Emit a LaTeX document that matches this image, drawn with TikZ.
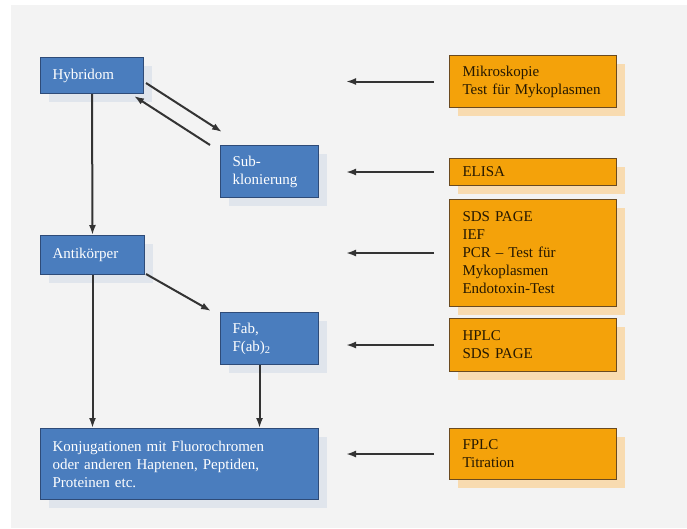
\documentclass[tikz,border=0pt]{standalone}
\usepackage{fontspec}
\setmainfont{Liberation Serif}
\usetikzlibrary{arrows.meta,shadows}

\definecolor{hellgrau}{HTML}{F3F3F3}
\definecolor{blau}{HTML}{4A7DBE}
\definecolor{blaurand}{HTML}{2E4B78}
\definecolor{blauschatten}{HTML}{E0E5EC}
\definecolor{orange}{HTML}{F4A20A}
\definecolor{orangerand}{HTML}{6A4A20}
\definecolor{orangeschatten}{HTML}{F8DBB0}
\definecolor{pfeilfarbe}{HTML}{333333}

\begin{document}
\begin{tikzpicture}[x=1pt,y=-1pt,
  kasten/.style={draw, line width=1pt, anchor=north west, inner xsep=12pt, inner ysep=0pt,
    align=left, font=\fontsize{15}{18}\selectfont},
  blaubox/.style={kasten, fill=blau, draw=blaurand, text=white,
    drop shadow={shadow xshift=8pt, shadow yshift=-8pt, fill=blauschatten, opacity=1}},
  orangebox/.style={kasten, fill=orange, draw=orangerand, text=black!85!orange, inner xsep=13pt,
    text width=141pt, drop shadow={shadow xshift=8pt, shadow yshift=-8pt, fill=orangeschatten, opacity=1}},
  pfeil/.style={draw=pfeilfarbe, line width=2pt, -{Latex[length=10pt,width=7pt]}}]
  \useasboundingbox (0,0) rectangle (687,528);
  \fill[hellgrau] (11,5) rectangle (687,528);

  \node[blaubox, text width=79pt, minimum height=36pt] (hyb) at (40,57) {Hybridom};
  \node[blaubox, text width=74pt, minimum height=52pt] (sub) at (220,145) {Sub-\\klonierung};
  \node[blaubox, text width=80pt, minimum height=39pt] (anti) at (40,235) {Antikörper};
  \node[blaubox, text width=74pt, minimum height=52pt] (fab) at (220,312) {Fab,\\F(ab)\textsubscript{2}};
  \node[blaubox, text width=254pt, minimum height=71pt] (konj) at (40,428)
    {Konjugationen mit Fluorochromen\\oder anderen Haptenen, Peptiden,\\Proteinen etc.};

  \node[orangebox, minimum height=52pt] (mikro) at (449,55) {Mikroskopie\\Test für Mykoplasmen};
  \node[orangebox, minimum height=27pt] (elisa) at (449,158) {ELISA};
  \node[orangebox, minimum height=107pt] (sds) at (449,199)
    {SDS PAGE\\IEF\\PCR – Test für\\Mykoplasmen\\Endotoxin-Test};
  \node[orangebox, minimum height=53pt] (hplc) at (449,318) {HPLC\\SDS PAGE};
  \node[orangebox, minimum height=51pt] (fplc) at (449,428) {FPLC\\Titration};

  \coordinate (ziel) at (346,0);
  \foreach \q in {mikro,elisa,sds,hplc,fplc}
    \draw[pfeil, shorten <=15pt] (\q.west) -- (\q.west -| ziel);

  \draw[pfeil] ([shift={(2,-11)}]hyb.south east) -- ([shift={(2,-13)}]sub.north west);
  \draw[pfeil] ([shift={(-10,0)}]sub.north west) -- ([shift={(-10,2)}]hyb.south east);
  \draw[pfeil] (hyb.south) -- (anti.north);
  \draw[pfeil] (anti.south) -- (anti.south |- konj.north);
  \draw[pfeil] ([shift={(1,-1)}]anti.south east) -- ([shift={(-9,-1)}]fab.north west);
  \draw[pfeil] ([xshift=-10pt]fab.south) -- ([xshift=-10pt]fab.south |- konj.north);
\end{tikzpicture}
\end{document}
